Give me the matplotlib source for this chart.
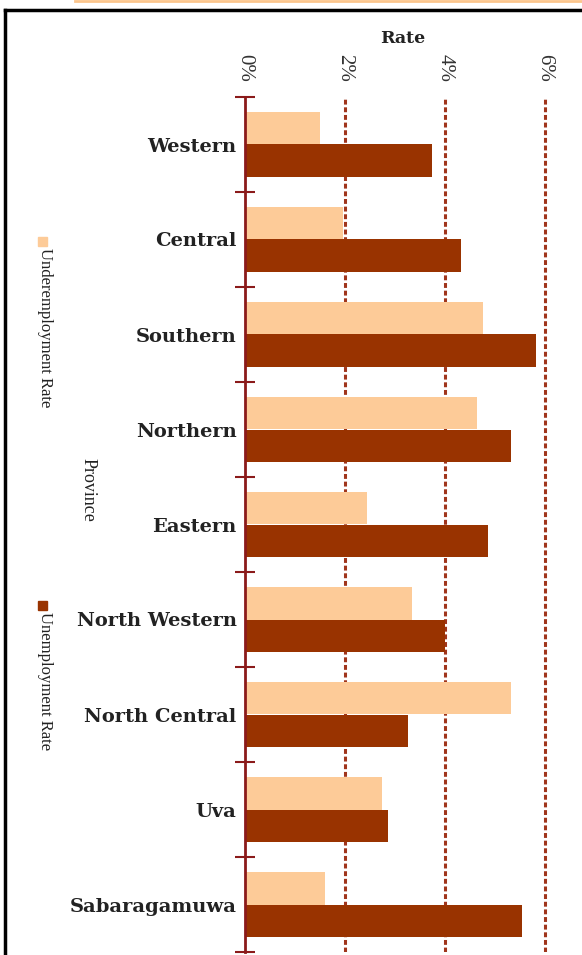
import numpy as np
import matplotlib
matplotlib.use("Agg")
import matplotlib.pyplot as plt
from matplotlib.lines import Line2D
from matplotlib.patches import Rectangle

provinces = ["Western", "Central", "Southern", "Northern", "Eastern",
             "North Western", "North Central", "Uva", "Sabaragamuwa"]
underemployment = [1.5, 1.96, 4.76, 4.64, 2.44, 3.34, 5.32, 2.74, 1.6]
unemployment = [3.74, 4.32, 5.82, 5.32, 4.86, 4.0, 3.26, 2.86, 5.54]
ticks = [0, 2, 4, 6]
tick_labels = ["0%", "2%", "4%", "6%"]

c_under = "#FDCB98"
c_unemp = "#993300"
c_axis = "#8B1A1A"
c_grid = "#A0351C"

plt.rcParams["font.family"] = ["Liberation Serif", "DejaVu Serif"]

W, H = 582, 955
fig = plt.figure(figsize=(W / 100, H / 100), dpi=100)

# frame of the screenshot
fig.add_artist(Line2D([5 / W, 5 / W], [0, 1 - 10 / H], transform=fig.transFigure,
                      color="black", lw=2.5))
fig.add_artist(Line2D([5 / W, 1], [1 - 10 / H, 1 - 10 / H], transform=fig.transFigure,
                      color="black", lw=2.5))
fig.add_artist(Line2D([75 / W, 1], [1 - 1 / H, 1 - 1 / H], transform=fig.transFigure,
                      color="#FBC58C", lw=2))

left, right, top, bottom = 245, 560, 97, 952
ax = fig.add_axes([left / W, 1 - bottom / H, (right - left) / W, (bottom - top) / H])

y = np.arange(len(provinces))
h = 0.34
ax.barh(y - h / 2, underemployment, height=h, color=c_under, zorder=3)
ax.barh(y + h / 2, unemployment, height=h, color=c_unemp, zorder=3)

ax.set_xlim(0, 6.3)
ax.set_ylim(len(provinces) - 0.5, -0.5)

for t in ticks[1:]:
    ax.axvline(t, color=c_grid, lw=2.2, ls=(0, (1.6, 0.9)), zorder=1)

for s in ["top", "right", "bottom"]:
    ax.spines[s].set_visible(False)
ax.spines["left"].set_color(c_axis)
ax.spines["left"].set_linewidth(2)
ax.spines["left"].set_zorder(4)

ax.set_yticks(np.arange(len(provinces) + 1) - 0.5)
ax.set_yticklabels([])
ax.tick_params(axis="y", direction="inout", length=14, width=1.5, color=c_axis)
ax.set_yticks(y, minor=True)
ax.set_yticklabels(provinces, minor=True, fontsize=14, fontweight="bold",
                   family="DejaVu Serif", color="#222222")
ax.tick_params(axis="y", which="minor", length=0, pad=6)

ax.xaxis.tick_top()
ax.set_xticks(ticks)
ax.set_xticklabels(tick_labels, rotation=270, fontsize=15, color="#333333")
ax.tick_params(axis="x", length=0, pad=11)
ax.set_xlabel("Rate", fontsize=12.5, fontweight="bold", family="DejaVu Serif",
              labelpad=8, color="#222222")
ax.xaxis.set_label_position("top")

# rotated legend and axis title
fig.text(88 / W, 1 - 490 / H, "Province", rotation=270, fontsize=13,
         ha="center", va="center", color="#222222")
for txt, col, ytop in [("Underemployment Rate", c_under, 236),
                       ("Unemployment Rate", c_unemp, 600)]:
    fig.add_artist(Rectangle((38 / W, 1 - (ytop + 10) / H), 9 / W, 9 / H,
                             transform=fig.transFigure, color=col))
    fig.text(45 / W, 1 - (ytop + 12) / H, txt, rotation=270, fontsize=12,
             ha="center", va="top", color="#222222")

fig.savefig("out.png", dpi=100)
